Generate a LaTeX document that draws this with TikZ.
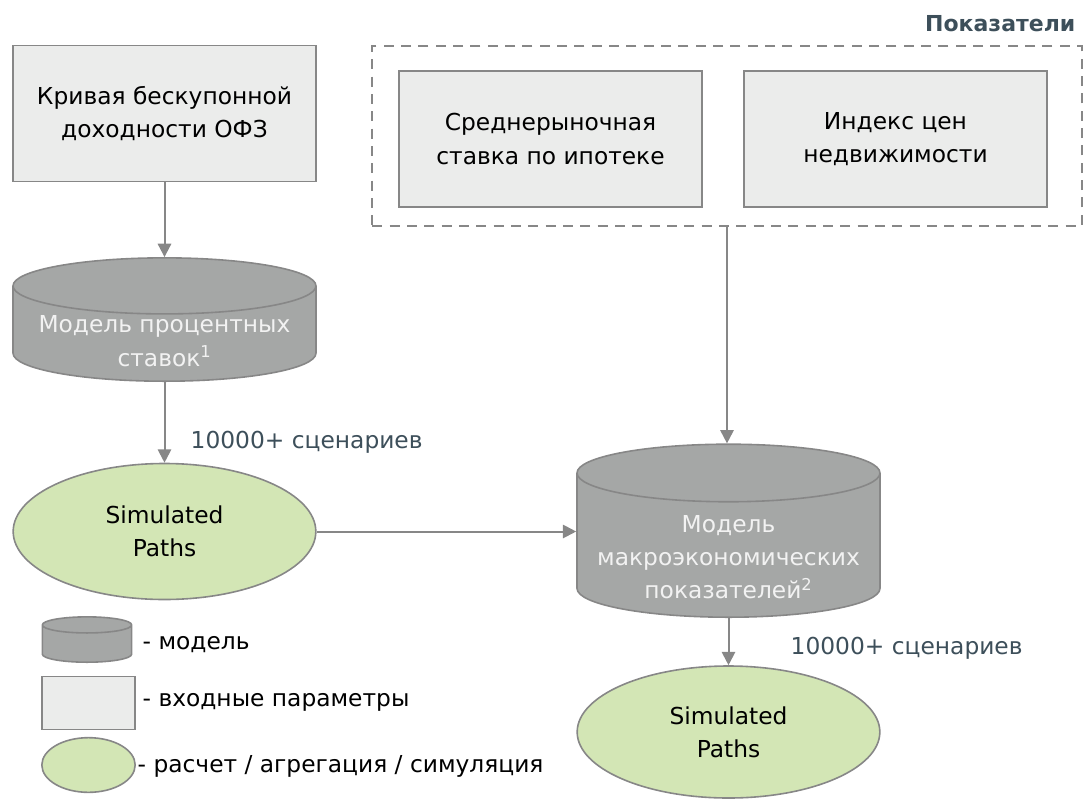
\documentclass[tikz,border=0pt]{standalone}
\usepackage{fontspec}
\setmainfont{DejaVu Sans}
\usepackage{tikz}
\usetikzlibrary{shapes.geometric,arrows.meta,positioning}

\definecolor{boxfill}{HTML}{EBECEB}
\definecolor{edgegray}{HTML}{878787}
\definecolor{cylfill}{HTML}{A5A7A6}
\definecolor{ovalfill}{HTML}{D3E6B5}
\definecolor{slate}{HTML}{3D4F5A}

\begin{document}
\begin{tikzpicture}
    [x=0.75pt, y=-0.75pt, font=\fontsize{17.5}{25}\selectfont,
     inbox/.style={draw=edgegray, line width=1.2pt, fill=boxfill, align=center,
                   minimum width=227pt, minimum height=102pt, inner sep=0pt},
     model/.style={cylinder, shape border rotate=90, aspect=0.185, draw=edgegray, anchor=south,
                   fill=cylfill, line width=1.2pt, inner ysep=0pt, inner xsep=113.6pt},
     modeltext/.style={text=white!95!black, align=center},
     sim/.style={ellipse, draw=edgegray, fill=ovalfill, line width=1.2pt, align=center,
                 minimum width=227pt, minimum height=102pt, inner sep=0pt},
     count/.style={text=slate, anchor=west},
     note/.style={anchor=west},
     flow/.style={draw=edgegray, line width=1.5pt, -{Triangle[length=10pt,width=10pt]}}]
    \useasboundingbox (0,0) rectangle (1084,799);

    \node[inbox] (curve) at (164.5,113.5) {Кривая бескупонной\\доходности ОФЗ};
    \node[model, minimum height=92.5pt] (irm) at (164.5,382) {};
    \node[modeltext] (irmtext) at (164.5,341) {Модель процентных\\ставок\textsuperscript{1}};
    \node[sim] (paths1) at (164.5,531.5) {Simulated\\Paths};
    \node[count] (n1) at (186,442) {10000+ сценариев};

    \node[anchor=east, text=slate, font=\fontsize{16.5}{18}\selectfont\bfseries] (title) at (1080,24) {Показатели};
    \node[draw=edgegray, dash pattern=on 7.5pt off 5.5pt, line width=1.5pt,
          minimum width=532pt, minimum height=135pt] (ind) at (727,136) {};
    \node[inbox] (mort) at (550.5,139) {Среднерыночная\\ставка по ипотеке};
    \node[inbox] (hpi) at (895.5,139) {Индекс цен\\недвижимости};

    \node[model, aspect=0.19, minimum height=129.75pt] (mm) at (728.5,618) {};
    \node[modeltext] (mmtext) at (728.5,557) {Модель\\макроэкономических\\показателей\textsuperscript{2}};
    \node[sim, minimum height=99pt] (paths2) at (728.5,732) {Simulated\\Paths};
    \node[count] (n2) at (786,648) {10000+ сценариев};

    \draw[flow] (curve.south) -- (irm.north);
    \draw[flow] (irm.south) -- (paths1.north);
    \draw[flow] (paths1.east) -- (paths1.east -| mm.west);
    \draw[flow] (ind.south) -- (ind.south |- mm.north);
    \draw[flow] (mm.south) -- (paths2.north);

    \node[model, aspect=0.18, inner xsep=33.5pt, minimum height=34pt] (keymodel) at (87,663) {};
    \node[note] (keymodeltext) at (138,645) {- модель};
    \node[inbox, minimum width=70pt, minimum height=40pt] (keyinput) at (88.5,703) {};
    \node[note] (keyinputtext) at (138,702) {- входные параметры};
    \node[sim, minimum width=70pt, minimum height=41pt] (keysim) at (88.5,765) {};
    \node[note] (keysimtext) at (133,766) {- расчет / агрегация / симуляция};
\end{tikzpicture}
\end{document}
